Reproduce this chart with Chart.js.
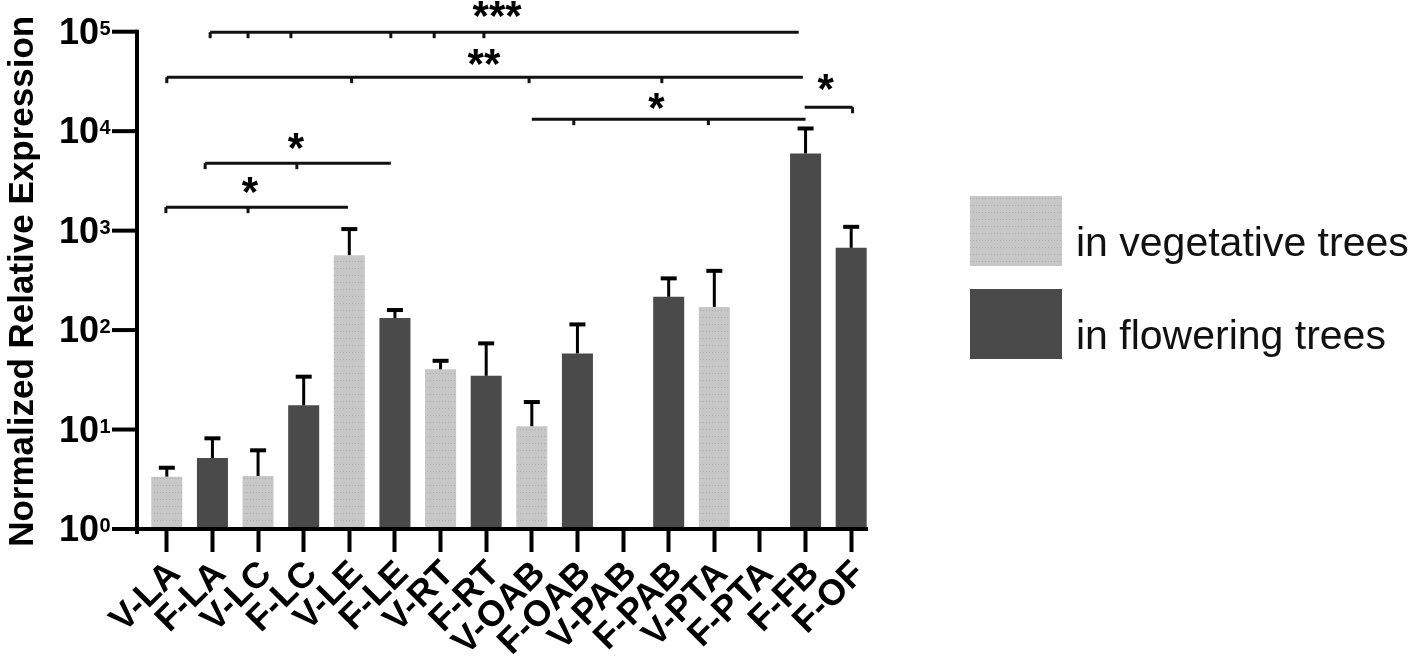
<!DOCTYPE html>
<html><head><meta charset="utf-8">
<script src="https://cdn.jsdelivr.net/npm/chart.js@4.4.0/dist/chart.umd.min.js"></script>
<style>html,body{margin:0;padding:0;background:#fff;overflow:hidden}#wrap{width:1411px;height:670px;position:relative}</style>
</head><body><div id="wrap"><canvas id="c" width="1411" height="670"></canvas></div>
<script>
const categories = ['V-LA','F-LA','V-LC','F-LC','V-LE','F-LE','V-RT','F-RT','V-OAB','F-OAB','V-PAB','F-PAB','V-PTA','F-PTA','F-FB','F-OF'];
const seriesNames = ['in vegetative trees', 'in flowering trees'];
const vegetativeMeans  = [3.36, null, 3.41, null, 567, null, 40.3, null, 10.8, null, null, null, 171, null, null, null];
const vegetativeErrTop = [4.13, null, 6.18, null, 1036, null, 49.1, null, 18.9, null, null, null, 394, null, null, null];
const floweringMeans   = [null, 5.17, null, 17.5, null, 132, null, 34.7, null, 58.3, null, 216, null, null, 5970, 671];
const floweringErrTop  = [null, 8.16, null, 34.0, null, 159, null, 73.5, null, 114, null, 331, null, null, 10640, 1092];
const yTickValues = [1, 10, 100, 1000, 10000, 100000];
const yTickBase = '10';
const yTickExponents = ['0','1','2','3','4','5'];
const yAxisTitle = 'Normalized Relative Expression';
// significance brackets: positions in category-index units, levels in data units
const bracketLabels     = ['***', '**', '*', '*', '*', '*'];
const bracketStart      = [0.95, 0.0, 8.0, 13.98, 0.84, -0.02];
const bracketEnd        = [13.85, 13.94, 14.0, 15.03, 4.91, 3.97];
const bracketLevel      = [98900, 34900, 13200, 17400, 4770, 1722];
const bracketTicks      = [[0.95,1.78,2.72,4.91,5.86,6.95],[0.0,4.05,7.94,10.85],[8.92,11.87],[15.03],[0.84,2.85],[-0.02,1.78]];
const bracketLabelX     = [7.24, 6.95, 10.73, 14.44, 2.83, 1.82];
const bracketLabelLevel = [168000, 55400, 20000, 31100, 7930, 2870];

const FONT = '"Liberation Sans", Arial, Helvetica, sans-serif';
const cv = document.getElementById('c');
const ctx = cv.getContext('2d');

function makePattern(bg, dot) {
  const p = document.createElement('canvas'); p.width = 6; p.height = 7;
  const g = p.getContext('2d');
  g.fillStyle = bg; g.fillRect(0, 0, 6, 7);
  g.fillStyle = dot; g.fillRect(1, 2, 1, 1); g.fillRect(4, 2, 1, 1);
  return ctx.createPattern(p, 'repeat');
}
const lightFill = makePattern('#c7c7c7', '#adadad');
const darkFill = '#4a4a4a';

function catX(xs, idx) {
  const p0 = xs.getPixelForValue(0), p1 = xs.getPixelForValue(1);
  return p0 + idx * (p1 - p0);
}

const overlay = {
  id: 'overlay',
  afterDatasetsDraw(chart) {
    const c = chart.ctx, ys = chart.scales.y;
    const errs = [vegetativeErrTop, floweringErrTop];
    c.save();
    c.strokeStyle = '#000';
    chart.data.datasets.forEach((ds, di) => {
      const meta = chart.getDatasetMeta(di);
      meta.data.forEach((bar, i) => {
        const v = ds.data[i], e = errs[di][i];
        if (v == null || e == null) return;
        const yt = ys.getPixelForValue(e);
        c.lineWidth = 3;
        c.beginPath(); c.moveTo(bar.x, bar.y); c.lineTo(bar.x, yt); c.stroke();
        c.lineWidth = 4;
        c.beginPath(); c.moveTo(bar.x - 8, yt); c.lineTo(bar.x + 8, yt); c.stroke();
      });
    });
    c.restore();
  },
  afterDraw(chart) {
    const c = chart.ctx, xs = chart.scales.x, ys = chart.scales.y, ca = chart.chartArea;
    const step = xs.getPixelForValue(1) - xs.getPixelForValue(0);
    const axisX = ca.left - 7;
    c.save();
    c.strokeStyle = '#000';
    c.fillStyle = '#000';
    c.lineCap = 'butt';
    // y axis line
    c.lineWidth = 4;
    c.beginPath(); c.moveTo(axisX, ys.getPixelForValue(yTickValues[yTickValues.length-1]) - 2); c.lineTo(axisX, ca.bottom + 5); c.stroke();
    // x axis line
    c.beginPath(); c.moveTo(axisX - 25, ca.bottom); c.lineTo(catX(xs, categories.length - 1) + 0.37 * step, ca.bottom); c.stroke();
    // y ticks and labels
    yTickValues.forEach((v, i) => {
      const y = ys.getPixelForValue(v);
      c.lineWidth = 4;
      c.beginPath(); c.moveTo(axisX - 25, y); c.lineTo(axisX, y); c.stroke();
      c.font = 'bold 36px ' + FONT;
      c.textAlign = 'right'; c.textBaseline = 'alphabetic';
      c.fillText(yTickBase, 99, y + 12);
      c.font = 'bold 20px ' + FONT;
      c.textAlign = 'left';
      c.fillText(yTickExponents[i], 99.5, y + 3);
    });
    // y axis title
    c.save();
    c.translate(33, (ca.top + ca.bottom) / 2 + 1);
    c.rotate(-Math.PI / 2);
    c.font = 'bold 35px ' + FONT;
    c.textAlign = 'center'; c.textBaseline = 'alphabetic';
    c.fillText(yAxisTitle, 0, 0);
    c.restore();
    // significance brackets
    c.strokeStyle = '#111';
    bracketLabels.forEach((lab, k) => {
      const y = ys.getPixelForValue(bracketLevel[k]);
      c.lineWidth = 3;
      c.beginPath(); c.moveTo(catX(xs, bracketStart[k]), y); c.lineTo(catX(xs, bracketEnd[k]), y); c.stroke();
      bracketTicks[k].forEach(t => {
        const tx = catX(xs, t);
        c.beginPath(); c.moveTo(tx, y); c.lineTo(tx, y + 6); c.stroke();
      });
      c.font = 'bold 42px ' + FONT;
      c.textAlign = 'center'; c.textBaseline = 'alphabetic';
      const m = c.measureText(lab);
      const cy = ys.getPixelForValue(bracketLabelLevel[k]);
      const base = cy + (m.actualBoundingBoxAscent - m.actualBoundingBoxDescent) / 2;
      c.fillText(lab, catX(xs, bracketLabelX[k]), base);
    });
    // legend
    const fills = [lightFill, darkFill];
    const boxTop = [196, 289];
    seriesNames.forEach((name, i) => {
      c.fillStyle = fills[i];
      c.fillRect(970, boxTop[i], 92, 70);
      c.fillStyle = '#111';
      c.font = '41px ' + FONT;
      c.textAlign = 'left'; c.textBaseline = 'alphabetic';
      c.fillText(name, 1076, boxTop[i] + 60);
    });
    c.restore();
  }
};

new Chart(cv, {
  type: 'bar',
  data: {
    labels: categories,
    datasets: [
      { label: seriesNames[0], data: vegetativeMeans, backgroundColor: lightFill, borderWidth: 0 },
      { label: seriesNames[1], data: floweringMeans, backgroundColor: darkFill, borderWidth: 0 }
    ]
  },
  options: {
    responsive: false,
    animation: false,
    events: [],
    grouped: false,
    categoryPercentage: 1,
    barPercentage: 0.68,
    layout: { padding: { left: 144, right: 537, top: 31.7, bottom: 0 } },
    plugins: { legend: { display: false }, tooltip: { enabled: false } },
    scales: {
      x: {
        type: 'category',
        offset: true,
        grid: { display: true, drawOnChartArea: false, drawTicks: true, tickLength: 23, tickWidth: 4, tickColor: '#000', offset: false },
        border: { display: false },
        ticks: { autoSkip: false, minRotation: 45, maxRotation: 45, padding: 1, labelOffset: 8, color: '#000', font: { family: FONT, size: 36, weight: 'bold' } },
        afterFit(scale) { scale.height = 141; }
      },
      y: {
        type: 'logarithmic',
        display: false,
        min: 1,
        max: 100000
      }
    }
  },
  plugins: [overlay]
});
</script></body></html>
